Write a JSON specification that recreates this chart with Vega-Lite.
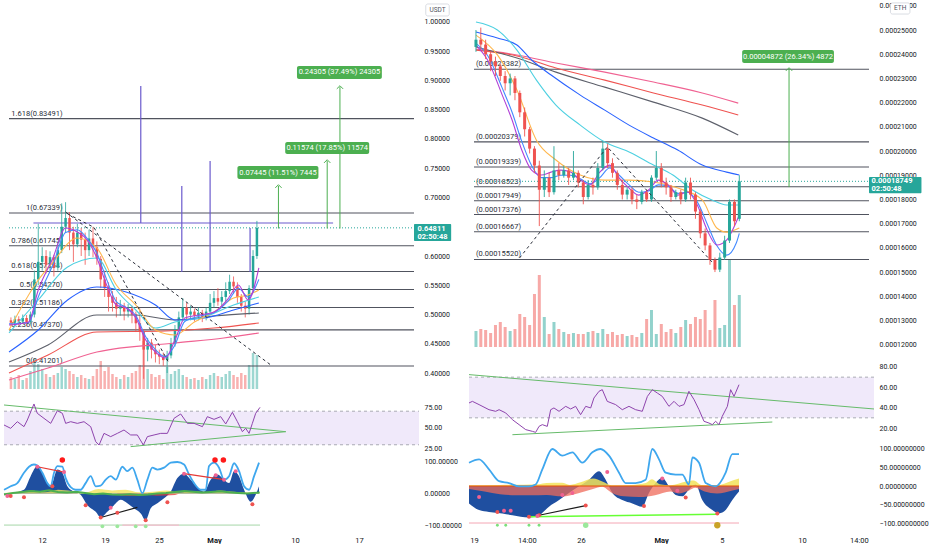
{
  "$schema": "https://vega.github.io/schema/vega-lite/v6.json",
  "description": "Token vs USDT and vs ETH, candles with fib levels, RSI and oscillator",
  "background": "#ffffff",
  "padding": 0,
  "spacing": 3,
  "config": {
    "view": {"stroke": null},
    "font": "Roboto",
    "axis": {"domain": false, "ticks": false, "grid": false, "labelFont": "Roboto", "labelFontSize": 7, "labelColor": "#131722", "labelPadding": 5, "labelOverlap": false, "tickCount": 60},
    "axisX": {"labelFontSize": 7.5},
    "text": {"font": "Roboto", "fontSize": 7.5}
  },
  "datasets": {
    "lC": [
      {"x":0.22,"o":0.490,"h":0.495,"l":0.480,"c":0.486,"v":12},
      {"x":0.67,"o":0.486,"h":0.498,"l":0.482,"c":0.492,"v":10},
      {"x":1.11,"o":0.492,"h":0.497,"l":0.481,"c":0.488,"v":14},
      {"x":1.56,"o":0.488,"h":0.500,"l":0.484,"c":0.494,"v":9},
      {"x":2.00,"o":0.494,"h":0.499,"l":0.480,"c":0.487,"v":11},
      {"x":2.44,"o":0.487,"h":0.505,"l":0.483,"c":0.500,"v":18},
      {"x":2.89,"o":0.500,"h":0.575,"l":0.495,"c":0.560,"v":30},
      {"x":3.33,"o":0.560,"h":0.655,"l":0.550,"c":0.590,"v":25},
      {"x":3.78,"o":0.590,"h":0.615,"l":0.575,"c":0.600,"v":20},
      {"x":4.22,"o":0.600,"h":0.610,"l":0.570,"c":0.585,"v":15},
      {"x":4.67,"o":0.585,"h":0.608,"l":0.575,"c":0.598,"v":12},
      {"x":5.11,"o":0.598,"h":0.602,"l":0.565,"c":0.580,"v":14},
      {"x":5.56,"o":0.580,"h":0.625,"l":0.575,"c":0.610,"v":16},
      {"x":6.00,"o":0.610,"h":0.690,"l":0.605,"c":0.650,"v":22},
      {"x":6.44,"o":0.650,"h":0.692,"l":0.640,"c":0.665,"v":20},
      {"x":6.89,"o":0.665,"h":0.675,"l":0.610,"c":0.640,"v":18},
      {"x":7.33,"o":0.640,"h":0.650,"l":0.590,"c":0.620,"v":15},
      {"x":7.78,"o":0.620,"h":0.655,"l":0.615,"c":0.640,"v":12},
      {"x":8.22,"o":0.640,"h":0.648,"l":0.600,"c":0.628,"v":14},
      {"x":8.67,"o":0.628,"h":0.640,"l":0.585,"c":0.610,"v":11},
      {"x":9.11,"o":0.610,"h":0.645,"l":0.600,"c":0.630,"v":10},
      {"x":9.56,"o":0.630,"h":0.650,"l":0.598,"c":0.615,"v":13},
      {"x":10.00,"o":0.615,"h":0.625,"l":0.585,"c":0.595,"v":20},
      {"x":10.44,"o":0.595,"h":0.600,"l":0.545,"c":0.560,"v":28},
      {"x":10.89,"o":0.560,"h":0.575,"l":0.530,"c":0.545,"v":18},
      {"x":11.33,"o":0.545,"h":0.555,"l":0.505,"c":0.530,"v":22},
      {"x":11.78,"o":0.530,"h":0.540,"l":0.505,"c":0.520,"v":15},
      {"x":12.22,"o":0.520,"h":0.530,"l":0.495,"c":0.510,"v":12},
      {"x":12.67,"o":0.510,"h":0.525,"l":0.498,"c":0.515,"v":10},
      {"x":13.11,"o":0.515,"h":0.520,"l":0.490,"c":0.505,"v":14},
      {"x":13.56,"o":0.505,"h":0.518,"l":0.495,"c":0.510,"v":12},
      {"x":14.00,"o":0.510,"h":0.515,"l":0.485,"c":0.500,"v":16},
      {"x":14.44,"o":0.500,"h":0.505,"l":0.470,"c":0.485,"v":18},
      {"x":14.89,"o":0.485,"h":0.510,"l":0.455,"c":0.470,"v":24},
      {"x":15.33,"o":0.470,"h":0.475,"l":0.390,"c":0.440,"v":48},
      {"x":15.78,"o":0.440,"h":0.460,"l":0.420,"c":0.452,"v":20},
      {"x":16.22,"o":0.452,"h":0.458,"l":0.425,"c":0.440,"v":15},
      {"x":16.67,"o":0.440,"h":0.448,"l":0.418,"c":0.432,"v":12},
      {"x":17.11,"o":0.432,"h":0.440,"l":0.415,"c":0.428,"v":14},
      {"x":17.56,"o":0.428,"h":0.435,"l":0.412,"c":0.422,"v":10},
      {"x":18.00,"o":0.422,"h":0.438,"l":0.400,"c":0.430,"v":22},
      {"x":18.44,"o":0.430,"h":0.460,"l":0.425,"c":0.450,"v":15},
      {"x":18.89,"o":0.450,"h":0.482,"l":0.445,"c":0.475,"v":18},
      {"x":19.33,"o":0.475,"h":0.505,"l":0.470,"c":0.495,"v":20},
      {"x":19.78,"o":0.495,"h":0.528,"l":0.490,"c":0.512,"v":14},
      {"x":20.22,"o":0.512,"h":0.520,"l":0.492,"c":0.500,"v":12},
      {"x":20.67,"o":0.500,"h":0.515,"l":0.490,"c":0.505,"v":10},
      {"x":21.11,"o":0.505,"h":0.510,"l":0.488,"c":0.498,"v":11},
      {"x":21.56,"o":0.498,"h":0.512,"l":0.490,"c":0.503,"v":9},
      {"x":22.00,"o":0.503,"h":0.508,"l":0.487,"c":0.496,"v":12},
      {"x":22.44,"o":0.496,"h":0.512,"l":0.490,"c":0.505,"v":10},
      {"x":22.89,"o":0.505,"h":0.535,"l":0.500,"c":0.520,"v":14},
      {"x":23.33,"o":0.520,"h":0.540,"l":0.512,"c":0.528,"v":16},
      {"x":23.78,"o":0.528,"h":0.545,"l":0.515,"c":0.522,"v":13},
      {"x":24.22,"o":0.522,"h":0.540,"l":0.512,"c":0.530,"v":12},
      {"x":24.67,"o":0.530,"h":0.555,"l":0.520,"c":0.540,"v":15},
      {"x":25.11,"o":0.540,"h":0.568,"l":0.535,"c":0.556,"v":18},
      {"x":25.56,"o":0.556,"h":0.565,"l":0.535,"c":0.548,"v":14},
      {"x":26.00,"o":0.548,"h":0.555,"l":0.520,"c":0.530,"v":12},
      {"x":26.44,"o":0.530,"h":0.535,"l":0.505,"c":0.515,"v":16},
      {"x":26.89,"o":0.515,"h":0.522,"l":0.495,"c":0.510,"v":14},
      {"x":27.33,"o":0.510,"h":0.550,"l":0.500,"c":0.545,"v":24},
      {"x":27.78,"o":0.545,"h":0.610,"l":0.540,"c":0.600,"v":36},
      {"x":28.22,"o":0.600,"h":0.660,"l":0.595,"c":0.648,"v":34}
    ],
    "lFib": [
      {"x":0,"x2":46.1,"lx":6.1,"p":0.83491,"t":"1.618(0.83491)"},
      {"x":0,"x2":46.1,"lx":6.1,"p":0.67339,"t":"1(0.67339)"},
      {"x":0,"x2":46.1,"lx":6.1,"p":0.61745,"t":"0.786(0.61745)"},
      {"x":0,"x2":46.1,"lx":6.1,"p":0.57354,"t":"0.618(0.57354)"},
      {"x":0,"x2":46.1,"lx":6.1,"p":0.54270,"t":"0.5(0.54270)"},
      {"x":0,"x2":46.1,"lx":6.1,"p":0.51186,"t":"0.382(0.51186)"},
      {"x":0,"x2":46.1,"lx":6.1,"p":0.47370,"t":"0.236(0.47370)"},
      {"x":0,"x2":46.1,"lx":6.1,"p":0.41201,"t":"0(0.41201)"}
    ],
    "lMA": [
      {"s":"pink","x":0,"p":0.388},{"s":"pink","x":4.44,"p":0.4085},{"s":"pink","x":10,"p":0.4359},{"s":"pink","x":18.89,"p":0.4513},{"s":"pink","x":24.44,"p":0.4598},{"s":"pink","x":28.44,"p":0.4684},
      {"s":"red","x":0,"p":0.40},{"s":"red","x":4.44,"p":0.4308},{"s":"red","x":10,"p":0.4701},{"s":"red","x":17.78,"p":0.4718},{"s":"red","x":23.33,"p":0.4769},{"s":"red","x":28.44,"p":0.4855},
      {"s":"gray","x":0,"p":0.4188},{"s":"gray","x":4.44,"p":0.4479},{"s":"gray","x":10,"p":0.4991},{"s":"gray","x":14.44,"p":0.4991},{"s":"gray","x":18.89,"p":0.4906},{"s":"gray","x":23.33,"p":0.4974},{"s":"gray","x":28.44,"p":0.5026},
      {"s":"blue","x":0,"p":0.4359},{"s":"blue","x":3.33,"p":0.4735},{"s":"blue","x":6.67,"p":0.5248},{"s":"blue","x":10,"p":0.547},{"s":"blue","x":13.33,"p":0.5385},{"s":"blue","x":16.67,"p":0.5162},{"s":"blue","x":18.89,"p":0.4906},{"s":"blue","x":22.22,"p":0.494},{"s":"blue","x":25.56,"p":0.5077},{"s":"blue","x":28.44,"p":0.5197},
      {"s":"teal","x":0,"p":0.4684},{"s":"teal","x":3.33,"p":0.5248},{"s":"teal","x":6.67,"p":0.5812},{"s":"teal","x":10,"p":0.5966},{"s":"teal","x":12.22,"p":0.5419},{"s":"teal","x":14.44,"p":0.5077},{"s":"teal","x":16.67,"p":0.4769},{"s":"teal","x":18.89,"p":0.4872},{"s":"teal","x":22.22,"p":0.4957},{"s":"teal","x":25.56,"p":0.5162},{"s":"teal","x":28.44,"p":0.5299},
      {"s":"orange","x":0,"p":0.4735},{"s":"orange","x":3.33,"p":0.559},{"s":"orange","x":5,"p":0.5897},{"s":"orange","x":7.78,"p":0.6308},{"s":"orange","x":10,"p":0.6137},{"s":"orange","x":12.22,"p":0.5504},{"s":"orange","x":14.44,"p":0.5162},{"s":"orange","x":16.67,"p":0.4735},{"s":"orange","x":18.89,"p":0.465},{"s":"orange","x":21.11,"p":0.4872},{"s":"orange","x":23.33,"p":0.5043},{"s":"orange","x":25.56,"p":0.5282},{"s":"orange","x":27.22,"p":0.5333},{"s":"orange","x":28.44,"p":0.5419},
      {"s":"fblue","x":0,"p":0.484},{"s":"fblue","x":2.22,"p":0.486},{"s":"fblue","x":3.33,"p":0.530},{"s":"fblue","x":5,"p":0.585},{"s":"fblue","x":6.44,"p":0.640},{"s":"fblue","x":7.78,"p":0.645},{"s":"fblue","x":8.89,"p":0.630},{"s":"fblue","x":10,"p":0.605},{"s":"fblue","x":11.11,"p":0.560},{"s":"fblue","x":12.22,"p":0.522},{"s":"fblue","x":13.33,"p":0.512},{"s":"fblue","x":14.44,"p":0.498},{"s":"fblue","x":15.56,"p":0.462},{"s":"fblue","x":16.67,"p":0.440},{"s":"fblue","x":17.78,"p":0.428},{"s":"fblue","x":18.89,"p":0.448},{"s":"fblue","x":20,"p":0.488},{"s":"fblue","x":21.67,"p":0.497},{"s":"fblue","x":23.33,"p":0.503},{"s":"fblue","x":25,"p":0.524},{"s":"fblue","x":26.11,"p":0.545},{"s":"fblue","x":27.22,"p":0.530},{"s":"fblue","x":28.44,"p":0.560},
      {"s":"fpurple","x":0,"p":0.4821},{"s":"fpurple","x":2.22,"p":0.4872},{"s":"fpurple","x":3.33,"p":0.5419},{"s":"fpurple","x":5,"p":0.5966},{"s":"fpurple","x":6.44,"p":0.6479},{"s":"fpurple","x":7.78,"p":0.641},{"s":"fpurple","x":8.89,"p":0.6274},{"s":"fpurple","x":10,"p":0.5966},{"s":"fpurple","x":11.11,"p":0.5504},{"s":"fpurple","x":12.22,"p":0.5162},{"s":"fpurple","x":13.33,"p":0.5111},{"s":"fpurple","x":14.44,"p":0.494},{"s":"fpurple","x":15.56,"p":0.4564},{"s":"fpurple","x":16.67,"p":0.4359},{"s":"fpurple","x":17.78,"p":0.4256},{"s":"fpurple","x":18.89,"p":0.4564},{"s":"fpurple","x":20,"p":0.494},{"s":"fpurple","x":21.67,"p":0.4991},{"s":"fpurple","x":23.33,"p":0.5043},{"s":"fpurple","x":25,"p":0.5282},{"s":"fpurple","x":26.11,"p":0.5504},{"s":"fpurple","x":27.22,"p":0.5248},{"s":"fpurple","x":28.44,"p":0.5795}
    ],
    "lR": [
      {"x":0,"v":53.6},{"x":0.74,"v":49.6},{"x":1.48,"v":57.5},{"x":2.22,"v":51.6},{"x":2.59,"v":59.5},{"x":3.33,"v":78.6},{"x":3.70,"v":67.5},{"x":4.44,"v":61.5},{"x":5.19,"v":55.5},{"x":5.93,"v":70.6},{"x":6.48,"v":67.5},{"x":6.85,"v":55.5},{"x":7.41,"v":57.5},{"x":8.15,"v":55.5},{"x":8.89,"v":57.5},{"x":9.63,"v":51.6},{"x":10.19,"v":33.7},{"x":10.56,"v":29.7},{"x":11.11,"v":43.6},{"x":11.85,"v":39.7},{"x":12.59,"v":43.6},{"x":13.33,"v":47.6},{"x":14.07,"v":41.7},{"x":14.81,"v":41.7},{"x":15.48,"v":29.7},{"x":15.93,"v":39.7},{"x":16.67,"v":41.7},{"x":17.41,"v":43.6},{"x":18.15,"v":43.6},{"x":18.89,"v":61.5},{"x":19.63,"v":66.7},{"x":20.37,"v":55.5},{"x":21.11,"v":55.5},{"x":22.04,"v":51.6},{"x":22.59,"v":63.5},{"x":23.33,"v":60.3},{"x":24.07,"v":63.5},{"x":24.63,"v":54.8},{"x":25.37,"v":68.7},{"x":25.93,"v":57.5},{"x":26.48,"v":45.6},{"x":26.85,"v":49.6},{"x":27.22,"v":43.6},{"x":27.59,"v":55.5},{"x":27.96,"v":67.5},{"x":28.44,"v":74.6}
    ],
    "lOL": [
      {"x":0,"v":12},{"x":0.74,"v":23},{"x":1.48,"v":33},{"x":2.22,"v":66},{"x":2.78,"v":85},{"x":3.33,"v":92},{"x":3.70,"v":89},{"x":4.26,"v":66},{"x":4.81,"v":33},{"x":5.19,"v":23},{"x":5.56,"v":66},{"x":5.93,"v":87},{"x":6.48,"v":85},{"x":6.85,"v":49},{"x":7.41,"v":20},{"x":7.96,"v":12},{"x":8.52,"v":12},{"x":9.07,"v":33},{"x":9.63,"v":55},{"x":10.19,"v":23},{"x":10.74,"v":25},{"x":11.30,"v":44},{"x":11.85,"v":55},{"x":12.41,"v":44},{"x":13.15,"v":85},{"x":13.70,"v":71},{"x":14.26,"v":82},{"x":14.81,"v":44},{"x":15.37,"v":1},{"x":15.93,"v":44},{"x":16.48,"v":82},{"x":17.04,"v":76},{"x":17.78,"v":82},{"x":18.52,"v":98},{"x":19.26,"v":100},{"x":20.00,"v":92},{"x":20.56,"v":60},{"x":21.11,"v":33},{"x":21.85,"v":12},{"x":22.41,"v":12},{"x":22.78,"v":87},{"x":23.33,"v":98},{"x":23.89,"v":82},{"x":24.44,"v":44},{"x":25.00,"v":55},{"x":25.56,"v":96},{"x":26.11,"v":71},{"x":26.67,"v":23},{"x":27.22,"v":12},{"x":27.78,"v":55},{"x":28.33,"v":98}
    ],
    "lOA": [
      {"x":0,"v":-4},{"x":2.22,"v":12},{"x":2.96,"v":55},{"x":3.70,"v":87},{"x":4.44,"v":55},{"x":5.19,"v":23},{"x":5.93,"v":76},{"x":6.48,"v":66},{"x":7.04,"v":23},{"x":7.78,"v":6},{"x":8.52,"v":-4},{"x":9.26,"v":-37},{"x":10.19,"v":-58},{"x":10.74,"v":-76},{"x":11.48,"v":-58},{"x":12.22,"v":-37},{"x":12.96,"v":-20},{"x":13.70,"v":-31},{"x":14.44,"v":-47},{"x":15.19,"v":-63},{"x":15.74,"v":-85},{"x":16.30,"v":-47},{"x":17.04,"v":-31},{"x":17.78,"v":-15},{"x":18.52,"v":6},{"x":19.26,"v":49},{"x":20.00,"v":63},{"x":20.74,"v":44},{"x":21.48,"v":20},{"x":22.22,"v":6},{"x":22.96,"v":44},{"x":23.70,"v":60},{"x":24.44,"v":44},{"x":25.00,"v":33},{"x":25.56,"v":71},{"x":26.11,"v":55},{"x":26.67,"v":12},{"x":27.41,"v":-26},{"x":27.96,"v":-4},{"x":28.33,"v":23}
    ],
    "lOY": [
      {"x":0,"v":2},{"x":1.5,"v":6},{"x":3,"v":10},{"x":4.5,"v":4},{"x":6,"v":12},{"x":7.5,"v":8},{"x":9,"v":3},{"x":10.5,"v":14},{"x":12,"v":10},{"x":13.5,"v":12},{"x":15,"v":4},{"x":16.5,"v":6},{"x":18,"v":10},{"x":19.5,"v":3},{"x":21,"v":8},{"x":22.5,"v":4},{"x":24,"v":10},{"x":25.5,"v":6},{"x":27,"v":3},{"x":28.4,"v":5}
    ],
    "lOG": [
      {"x":0,"v":-3},{"x":1,"v":2},{"x":2,"v":5},{"x":3,"v":8},{"x":4,"v":6},{"x":5,"v":10},{"x":6,"v":5},{"x":7,"v":3},{"x":8,"v":6},{"x":9,"v":2},{"x":10,"v":-2},{"x":11,"v":0},{"x":12,"v":-3},{"x":13,"v":-4},{"x":14,"v":-2},{"x":15,"v":-5},{"x":16,"v":-3},{"x":17,"v":0},{"x":18,"v":2},{"x":19,"v":5},{"x":20,"v":8},{"x":21,"v":6},{"x":22,"v":3},{"x":23,"v":5},{"x":24,"v":7},{"x":25,"v":4},{"x":26,"v":2},{"x":27,"v":0},{"x":28.4,"v":3}
    ],
    "lOD": [
      {"x":3.70,"v":85,"k":"bear"},{"x":6.67,"v":68,"k":"bear"},{"x":20.0,"v":63,"k":"bear"},{"x":23.52,"v":58,"k":"bear"},{"x":24.44,"v":44,"k":"bear"},{"x":25.74,"v":71,"k":"bear"},{"x":0.37,"v":-8,"k":"bear"},{"x":11.85,"v":-45,"k":"bear"},
      {"x":5.37,"v":23,"k":"bull"},{"x":2.22,"v":-12,"k":"bull"},{"x":0.74,"v":-8,"k":"bull"},{"x":9.07,"v":-37,"k":"bull"},{"x":10.74,"v":-76,"k":"bull"},{"x":12.59,"v":-61,"k":"bull"},{"x":15.74,"v":-85,"k":"bull"},{"x":18.15,"v":-28,"k":"bull"},{"x":27.59,"v":-34,"k":"bull"}
    ],
    "rC": [
      {"x":0.13,"o":0.000243,"h":0.00025,"l":0.000241,"c":0.000246,"v":16},
      {"x":0.45,"o":0.000246,"h":0.000251,"l":0.000242,"c":0.000244,"v":18},
      {"x":0.77,"o":0.000244,"h":0.000246,"l":0.000238,"c":0.00024,"v":17},
      {"x":1.10,"o":0.00024,"h":0.000241,"l":0.000233,"c":0.000237,"v":14},
      {"x":1.42,"o":0.000237,"h":0.000239,"l":0.000231,"c":0.000235,"v":22},
      {"x":1.74,"o":0.000235,"h":0.000236,"l":0.000229,"c":0.000231,"v":25},
      {"x":2.06,"o":0.000231,"h":0.000233,"l":0.000225,"c":0.000228,"v":20},
      {"x":2.39,"o":0.000228,"h":0.000232,"l":0.000223,"c":0.00023,"v":16},
      {"x":2.71,"o":0.00023,"h":0.000231,"l":0.000221,"c":0.000224,"v":18},
      {"x":3.03,"o":0.000224,"h":0.000225,"l":0.000214,"c":0.000216,"v":33},
      {"x":3.35,"o":0.000216,"h":0.000218,"l":0.000206,"c":0.000209,"v":30},
      {"x":3.68,"o":0.000209,"h":0.00021,"l":0.000199,"c":0.000201,"v":22},
      {"x":4.00,"o":0.000201,"h":0.000202,"l":0.000191,"c":0.000194,"v":53},
      {"x":4.32,"o":0.000194,"h":0.000196,"l":0.000169,"c":0.000184,"v":72},
      {"x":4.65,"o":0.000184,"h":0.000192,"l":0.000181,"c":0.000189,"v":30},
      {"x":4.97,"o":0.000189,"h":0.000191,"l":0.000181,"c":0.000183,"v":13},
      {"x":5.29,"o":0.000183,"h":0.000202,"l":0.000182,"c":0.000192,"v":25},
      {"x":5.61,"o":0.000192,"h":0.000195,"l":0.000188,"c":0.00019,"v":18},
      {"x":5.94,"o":0.00019,"h":0.000194,"l":0.000189,"c":0.000192,"v":15},
      {"x":6.26,"o":0.000192,"h":0.000193,"l":0.000186,"c":0.000189,"v":13},
      {"x":6.58,"o":0.000189,"h":0.0002,"l":0.000188,"c":0.000191,"v":14},
      {"x":6.90,"o":0.000191,"h":0.000192,"l":0.000185,"c":0.000187,"v":13},
      {"x":7.23,"o":0.000187,"h":0.000188,"l":0.000178,"c":0.000181,"v":13},
      {"x":7.55,"o":0.000181,"h":0.000188,"l":0.00018,"c":0.000186,"v":15},
      {"x":7.87,"o":0.000186,"h":0.000189,"l":0.000182,"c":0.000185,"v":16},
      {"x":8.19,"o":0.000185,"h":0.000195,"l":0.000184,"c":0.000193,"v":14},
      {"x":8.52,"o":0.000193,"h":0.000204,"l":0.000192,"c":0.000201,"v":18},
      {"x":8.84,"o":0.000201,"h":0.000203,"l":0.000193,"c":0.000195,"v":13},
      {"x":9.16,"o":0.000195,"h":0.000197,"l":0.000189,"c":0.000191,"v":15},
      {"x":9.48,"o":0.000191,"h":0.000192,"l":0.000184,"c":0.000186,"v":12},
      {"x":9.81,"o":0.000186,"h":0.000188,"l":0.00018,"c":0.000182,"v":13},
      {"x":10.13,"o":0.000182,"h":0.000185,"l":0.00018,"c":0.000184,"v":11},
      {"x":10.45,"o":0.000184,"h":0.000185,"l":0.000178,"c":0.00018,"v":12},
      {"x":10.77,"o":0.00018,"h":0.000182,"l":0.000176,"c":0.000179,"v":10},
      {"x":11.10,"o":0.000179,"h":0.000184,"l":0.000178,"c":0.000183,"v":14},
      {"x":11.42,"o":0.000183,"h":0.000184,"l":0.000179,"c":0.00018,"v":28},
      {"x":11.74,"o":0.00018,"h":0.00019,"l":0.000179,"c":0.000189,"v":37},
      {"x":12.06,"o":0.000189,"h":0.0002,"l":0.000188,"c":0.000193,"v":13},
      {"x":12.39,"o":0.000193,"h":0.000195,"l":0.000185,"c":0.000187,"v":23},
      {"x":12.71,"o":0.000187,"h":0.000189,"l":0.000182,"c":0.000185,"v":15},
      {"x":13.03,"o":0.000185,"h":0.000186,"l":0.000179,"c":0.000181,"v":18},
      {"x":13.35,"o":0.000181,"h":0.000184,"l":0.00018,"c":0.000183,"v":14},
      {"x":13.68,"o":0.000183,"h":0.000184,"l":0.000178,"c":0.00018,"v":20},
      {"x":14.00,"o":0.00018,"h":0.000189,"l":0.000179,"c":0.000187,"v":27},
      {"x":14.32,"o":0.000187,"h":0.000189,"l":0.00018,"c":0.000182,"v":23},
      {"x":14.65,"o":0.000182,"h":0.000183,"l":0.000172,"c":0.000175,"v":30},
      {"x":14.97,"o":0.000175,"h":0.000176,"l":0.000164,"c":0.000166,"v":28},
      {"x":15.29,"o":0.000166,"h":0.000168,"l":0.000159,"c":0.000161,"v":37},
      {"x":15.61,"o":0.000161,"h":0.000162,"l":0.000153,"c":0.000155,"v":17},
      {"x":15.94,"o":0.000155,"h":0.000156,"l":0.00015,"c":0.000151,"v":47},
      {"x":16.26,"o":0.000151,"h":0.000158,"l":0.00015,"c":0.000156,"v":19},
      {"x":16.58,"o":0.000156,"h":0.000165,"l":0.000155,"c":0.000163,"v":22},
      {"x":16.90,"o":0.000163,"h":0.00018,"l":0.000162,"c":0.000179,"v":87},
      {"x":17.23,"o":0.000179,"h":0.00018,"l":0.000169,"c":0.000171,"v":42},
      {"x":17.55,"o":0.000172,"h":0.00019,"l":0.000171,"c":0.00018749,"v":52}
    ],
    "rFib": [
      {"x":0,"x2":26.13,"lx":0.13,"p":0.00023382,"t":"(0.00023382)"},
      {"x":0,"x2":26.13,"lx":0.13,"p":0.00020379,"t":"(0.00020379)"},
      {"x":0,"x2":26.13,"lx":0.13,"p":0.00019339,"t":"(0.00019339)"},
      {"x":0,"x2":26.13,"lx":0.13,"p":0.00018523,"t":"(0.00018523)"},
      {"x":0,"x2":26.13,"lx":0.13,"p":0.00017949,"t":"(0.00017949)"},
      {"x":0,"x2":26.13,"lx":0.13,"p":0.00017376,"t":"(0.00017376)"},
      {"x":0,"x2":26.13,"lx":0.13,"p":0.00016667,"t":"(0.00016667)"},
      {"x":0,"x2":26.13,"lx":0.13,"p":0.00015520,"t":"(0.00015520)"}
    ],
    "rMA": [
      {"s":"pink","x":0.13,"p":0.0002421},{"s":"pink","x":2.84,"p":0.0002397},{"s":"pink","x":5.42,"p":0.0002364},{"s":"pink","x":8.65,"p":0.0002326},{"s":"pink","x":11.87,"p":0.0002285},{"s":"pink","x":15.10,"p":0.000224},{"s":"pink","x":17.48,"p":0.0002198},
      {"s":"red","x":0.13,"p":0.0002417},{"s":"red","x":2.84,"p":0.0002393},{"s":"red","x":5.42,"p":0.0002343},{"s":"red","x":8.65,"p":0.0002293},{"s":"red","x":11.87,"p":0.000224},{"s":"red","x":15.10,"p":0.000219},{"s":"red","x":17.48,"p":0.0002149},
      {"s":"gray","x":0.13,"p":0.000243},{"s":"gray","x":2.84,"p":0.0002384},{"s":"gray","x":5.42,"p":0.0002326},{"s":"gray","x":8.65,"p":0.0002264},{"s":"gray","x":11.87,"p":0.0002202},{"s":"gray","x":15.10,"p":0.0002136},{"s":"gray","x":17.48,"p":0.0002066},
      {"s":"blue","x":0.13,"p":0.0002492},{"s":"blue","x":1.55,"p":0.0002467},{"s":"blue","x":2.84,"p":0.0002438},{"s":"blue","x":3.81,"p":0.0002376},{"s":"blue","x":5.10,"p":0.0002314},{"s":"blue","x":7.03,"p":0.0002231},{"s":"blue","x":8.65,"p":0.0002169},{"s":"blue","x":10.26,"p":0.0002107},{"s":"blue","x":11.87,"p":0.0002054},{"s":"blue","x":13.48,"p":0.0002004},{"s":"blue","x":15.10,"p":0.0001942},{"s":"blue","x":16.71,"p":0.0001913},{"s":"blue","x":17.55,"p":0.0001901},
      {"s":"teal","x":0.13,"p":0.0002533},{"s":"teal","x":1.55,"p":0.00025},{"s":"teal","x":2.84,"p":0.0002417},{"s":"teal","x":4.13,"p":0.0002293},{"s":"teal","x":5.42,"p":0.000219},{"s":"teal","x":7.03,"p":0.0002107},{"s":"teal","x":8.65,"p":0.0002037},{"s":"teal","x":10.26,"p":0.0001996},{"s":"teal","x":11.87,"p":0.0001942},{"s":"teal","x":13.16,"p":0.0001901},{"s":"teal","x":14.45,"p":0.0001839},{"s":"teal","x":15.74,"p":0.0001798},{"s":"teal","x":16.71,"p":0.0001777},{"s":"teal","x":17.55,"p":0.0001777},
      {"s":"orange","x":0.13,"p":0.0002479},{"s":"orange","x":1.55,"p":0.0002397},{"s":"orange","x":2.84,"p":0.0002252},{"s":"orange","x":4.13,"p":0.0002045},{"s":"orange","x":5.42,"p":0.0001963},{"s":"orange","x":7.03,"p":0.0001901},{"s":"orange","x":8.65,"p":0.000188},{"s":"orange","x":10.26,"p":0.000188},{"s":"orange","x":11.87,"p":0.0001872},{"s":"orange","x":13.48,"p":0.0001847},{"s":"orange","x":15.10,"p":0.0001798},{"s":"orange","x":16.06,"p":0.0001682},{"s":"orange","x":16.71,"p":0.0001665},{"s":"orange","x":17.55,"p":0.0001682},
      {"s":"fblue","x":0.13,"p":0.0002445},{"s":"fblue","x":0.90,"p":0.0002395},{"s":"fblue","x":1.87,"p":0.000226},{"s":"fblue","x":2.52,"p":0.000216},{"s":"fblue","x":3.16,"p":0.000204},{"s":"fblue","x":3.81,"p":0.000194},{"s":"fblue","x":4.45,"p":0.000189},{"s":"fblue","x":5.10,"p":0.000189},{"s":"fblue","x":5.74,"p":0.00019},{"s":"fblue","x":6.39,"p":0.00019},{"s":"fblue","x":7.03,"p":0.0001885},{"s":"fblue","x":7.68,"p":0.0001865},{"s":"fblue","x":8.32,"p":0.000189},{"s":"fblue","x":8.97,"p":0.000193},{"s":"fblue","x":9.61,"p":0.00019},{"s":"fblue","x":10.26,"p":0.000186},{"s":"fblue","x":10.90,"p":0.000183},{"s":"fblue","x":11.55,"p":0.0001835},{"s":"fblue","x":12.19,"p":0.000186},{"s":"fblue","x":12.84,"p":0.0001855},{"s":"fblue","x":13.48,"p":0.0001825},{"s":"fblue","x":14.13,"p":0.000183},{"s":"fblue","x":14.77,"p":0.000179},{"s":"fblue","x":15.42,"p":0.00017},{"s":"fblue","x":16.06,"p":0.000161},{"s":"fblue","x":16.71,"p":0.000157},{"s":"fblue","x":17.35,"p":0.000162},{"s":"fblue","x":17.55,"p":0.000166},
      {"s":"fpurple","x":0.13,"p":0.0002438},{"s":"fpurple","x":0.90,"p":0.0002376},{"s":"fpurple","x":1.87,"p":0.0002231},{"s":"fpurple","x":2.52,"p":0.0002128},{"s":"fpurple","x":3.16,"p":0.0002004},{"s":"fpurple","x":3.81,"p":0.0001921},{"s":"fpurple","x":4.45,"p":0.0001901},{"s":"fpurple","x":5.10,"p":0.0001913},{"s":"fpurple","x":5.74,"p":0.0001921},{"s":"fpurple","x":6.39,"p":0.0001913},{"s":"fpurple","x":7.03,"p":0.000188},{"s":"fpurple","x":7.68,"p":0.000186},{"s":"fpurple","x":8.32,"p":0.0001913},{"s":"fpurple","x":8.97,"p":0.0001942},{"s":"fpurple","x":9.61,"p":0.0001888},{"s":"fpurple","x":10.26,"p":0.0001847},{"s":"fpurple","x":10.90,"p":0.0001818},{"s":"fpurple","x":11.55,"p":0.0001839},{"s":"fpurple","x":12.19,"p":0.000188},{"s":"fpurple","x":12.84,"p":0.000186},{"s":"fpurple","x":13.48,"p":0.0001818},{"s":"fpurple","x":14.13,"p":0.0001831},{"s":"fpurple","x":14.77,"p":0.0001777},{"s":"fpurple","x":15.42,"p":0.0001674},{"s":"fpurple","x":16.06,"p":0.0001612},{"s":"fpurple","x":16.71,"p":0.0001632},{"s":"fpurple","x":17.35,"p":0.0001707},{"s":"fpurple","x":17.55,"p":0.0001736}
    ],
    "rR": [
      {"x":0,"v":44.6},{"x":0.22,"v":46.2},{"x":0.65,"v":43},{"x":1.29,"v":38},{"x":1.72,"v":36.4},{"x":1.94,"v":38},{"x":2.37,"v":34.8},{"x":2.80,"v":28.2},{"x":3.23,"v":23.3},{"x":3.66,"v":18.4},{"x":4.09,"v":16.7},{"x":4.30,"v":15.7},{"x":4.52,"v":21.6},{"x":4.73,"v":23.3},{"x":5.05,"v":21.6},{"x":5.27,"v":38},{"x":5.48,"v":39.7},{"x":5.81,"v":36.4},{"x":6.24,"v":41.3},{"x":6.56,"v":38.7},{"x":6.88,"v":41.3},{"x":7.20,"v":33.1},{"x":7.53,"v":41.3},{"x":7.85,"v":39.7},{"x":8.06,"v":49.5},{"x":8.39,"v":56.1},{"x":8.60,"v":57.7},{"x":8.92,"v":46.2},{"x":9.46,"v":43},{"x":9.89,"v":38},{"x":10.32,"v":41.3},{"x":10.75,"v":38},{"x":11.18,"v":36.4},{"x":11.51,"v":51.1},{"x":11.83,"v":57.7},{"x":12.15,"v":54.4},{"x":12.47,"v":51.1},{"x":12.90,"v":41.3},{"x":13.23,"v":46.2},{"x":13.55,"v":41.3},{"x":13.87,"v":43},{"x":14.19,"v":56.1},{"x":14.52,"v":47.9},{"x":14.84,"v":38},{"x":15.16,"v":26.6},{"x":15.48,"v":24.9},{"x":15.70,"v":23.3},{"x":15.91,"v":26.6},{"x":16.13,"v":23.3},{"x":16.34,"v":31.5},{"x":16.67,"v":41.3},{"x":16.88,"v":57.7},{"x":17.10,"v":51.1},{"x":17.42,"v":62.6}
    ],
    "rOL": [
      {"x":0,"v":63},{"x":0.65,"v":72},{"x":1.29,"v":45},{"x":1.94,"v":13},{"x":2.58,"v":8},{"x":3.23,"v":-1},{"x":3.87,"v":-1},{"x":4.30,"v":4},{"x":4.73,"v":45},{"x":5.38,"v":100},{"x":6.02,"v":82},{"x":6.67,"v":91},{"x":7.31,"v":63},{"x":7.96,"v":91},{"x":8.49,"v":100},{"x":9.03,"v":82},{"x":9.68,"v":36},{"x":10.11,"v":8},{"x":10.75,"v":8},{"x":11.40,"v":17},{"x":11.83,"v":100},{"x":12.26,"v":72},{"x":12.69,"v":36},{"x":13.33,"v":31},{"x":13.76,"v":31},{"x":14.19,"v":4},{"x":14.41,"v":77},{"x":14.84,"v":63},{"x":15.27,"v":8},{"x":15.91,"v":-1},{"x":16.56,"v":36},{"x":16.99,"v":86},{"x":17.42,"v":86}
    ],
    "rOA": [
      {"x":0,"v":-47},{"x":0.65,"v":-65},{"x":1.29,"v":-70},{"x":2.15,"v":-74},{"x":2.80,"v":-79},{"x":3.87,"v":-85},{"x":4.52,"v":-79},{"x":5.16,"v":-56},{"x":5.81,"v":-38},{"x":6.45,"v":-19},{"x":7.10,"v":-1},{"x":7.74,"v":17},{"x":8.39,"v":40},{"x":8.82,"v":17},{"x":9.25,"v":-19},{"x":9.89,"v":-38},{"x":10.54,"v":-47},{"x":11.18,"v":-56},{"x":11.61,"v":-19},{"x":12.04,"v":8},{"x":12.47,"v":22},{"x":12.90,"v":-1},{"x":13.33,"v":-24},{"x":13.76,"v":-28},{"x":14.19,"v":-10},{"x":14.62,"v":4},{"x":15.05,"v":-38},{"x":15.70,"v":-65},{"x":16.13,"v":-74},{"x":16.56,"v":-65},{"x":16.99,"v":-38},{"x":17.42,"v":-15}
    ],
    "rOR": [
      {"x":0,"v":-8},{"x":1,"v":-15},{"x":2,"v":-22},{"x":3,"v":-25},{"x":4,"v":-25},{"x":5,"v":-24},{"x":6,"v":-28},{"x":7,"v":-20},{"x":8,"v":-8},{"x":8.6,"v":-2},{"x":9.2,"v":-18},{"x":10,"v":-28},{"x":11,"v":-30},{"x":12,"v":-25},{"x":13,"v":-15},{"x":13.5,"v":-20},{"x":14.2,"v":-12},{"x":14.6,"v":-5},{"x":15.2,"v":-15},{"x":16,"v":-20},{"x":17,"v":-12},{"x":17.42,"v":-8}
    ],
    "rOY": [
      {"x":0,"v":2},{"x":2,"v":3},{"x":4.5,"v":5},{"x":5,"v":8},{"x":6,"v":9},{"x":6.5,"v":3},{"x":7.2,"v":10},{"x":8,"v":20},{"x":8.6,"v":12},{"x":9.2,"v":2},{"x":10.5,"v":3},{"x":11.4,"v":8},{"x":11.8,"v":18},{"x":12.3,"v":5},{"x":13,"v":2},{"x":14,"v":12},{"x":14.5,"v":15},{"x":15,"v":3},{"x":16,"v":2},{"x":17,"v":15},{"x":17.42,"v":20}
    ],
    "rOD": [
      {"x":1.83,"v":-70,"k":"bull"},{"x":3.87,"v":-83,"k":"bull"},{"x":4.52,"v":-79,"k":"bull"},{"x":7.53,"v":-53,"k":"bull"},{"x":11.29,"v":-54,"k":"bull"},{"x":13.98,"v":-31,"k":"bull"},{"x":16.02,"v":-74,"k":"bull"},
      {"x":0.65,"v":-30,"k":"bear"},{"x":2.26,"v":-67,"k":"bear"},{"x":2.69,"v":-67,"k":"bear"},{"x":4.41,"v":-81,"k":"bear"},{"x":6.02,"v":-24,"k":"bear"},{"x":6.67,"v":-19,"k":"bear"},{"x":8.92,"v":38,"k":"bear"},{"x":12.47,"v":20,"k":"bear"},{"x":13.44,"v":-13,"k":"bear"}
    ]
  },
  "hconcat": [
    {
      "spacing": 0,
      "bounds": "flush",
      "vconcat": [
        {
          "width": 415,
          "height": 395,
          "encoding": {"x": {"field": "x", "type": "quantitative", "title": null, "scale": {"domain": [0, 46.1], "nice": false, "zero": false}, "axis": null}},
          "resolve": {"scale": {"y": "independent"}},
          "layer": [
            {
              "data": {"name": "lC"},
              "mark": {"type": "bar", "width": 2.5, "opacity": 0.45},
              "encoding": {
                "y": {"field": "v", "type": "quantitative", "title": null, "scale": {"domain": [-6, 389], "nice": false, "zero": false}, "axis": null},
                "y2": {"datum": 0},
                "color": {"condition": {"test": "datum.c >= datum.o", "value": "#26a69a"}, "value": "#ef5350"}
              }
            },
            {
              "layer": [
                {
                  "data": {"name": "lFib"},
                  "mark": {"type": "rule", "color": "#50535e", "strokeWidth": 1.1},
                  "encoding": {
                    "x2": {"field": "x2"},
                    "y": {"field": "p", "type": "quantitative", "title": null, "scale": {"domain": [0.3624, 1.0376], "nice": false, "zero": false},
                      "axis": {"orient": "right", "tickCount": 60, "labelOverlap": false, "values": [0.4, 0.45, 0.5, 0.55, 0.6, 0.7, 0.75, 0.8, 0.85, 0.9, 0.95, 1.0], "format": ".5f"}}
                  }
                },
                {
                  "data": {"name": "lFib"},
                  "mark": {"type": "text", "align": "right", "baseline": "bottom", "dy": -1, "color": "#2a2e39", "fontSize": 7.5},
                  "encoding": {
                    "x": {"field": "lx", "type": "quantitative"},
                    "y": {"field": "p", "type": "quantitative", "title": null},
                    "text": {"field": "t", "type": "nominal"}
                  }
                },
                {
                  "data": {"values": [{"x": 0, "x2": 46.1, "p": 0.64811}]},
                  "mark": {"type": "rule", "color": "#26a69a", "strokeDash": [1, 2], "strokeWidth": 1},
                  "encoding": {"x2": {"field": "x2"}, "y": {"field": "p", "type": "quantitative", "title": null}}
                },
                {
                  "data": {"values": [
                    {"x": 2.78, "x2": 36.89, "p": 0.6564, "p2": 0.6564},
                    {"x": 15.0, "x2": 15.0, "p": 0.8906, "p2": 0.6564},
                    {"x": 19.67, "x2": 19.67, "p": 0.7197, "p2": 0.5726},
                    {"x": 22.89, "x2": 22.89, "p": 0.7624, "p2": 0.5726},
                    {"x": 27.44, "x2": 27.44, "p": 0.6479, "p2": 0.5726}
                  ]},
                  "mark": {"type": "rule", "color": "#6a5acd", "strokeWidth": 1.2},
                  "encoding": {"x2": {"field": "x2"}, "y": {"field": "p", "type": "quantitative", "title": null}, "y2": {"field": "p2"}}
                },
                {
                  "data": {"name": "lC"},
                  "mark": {"type": "rule", "strokeWidth": 0.8},
                  "encoding": {
                    "y": {"field": "l", "type": "quantitative", "title": null},
                    "y2": {"field": "h"},
                    "color": {"condition": {"test": "datum.c >= datum.o", "value": "#26a69a"}, "value": "#ef5350"}
                  }
                },
                {
                  "data": {"name": "lC"},
                  "mark": {"type": "bar", "width": 2.5},
                  "encoding": {
                    "y": {"field": "o", "type": "quantitative", "title": null},
                    "y2": {"field": "c"},
                    "color": {"condition": {"test": "datum.c >= datum.o", "value": "#26a69a"}, "value": "#ef5350"}
                  }
                },
                {
                  "data": {"name": "lMA"},
                  "mark": {"type": "line", "strokeWidth": 1.1, "interpolate": "monotone"},
                  "encoding": {
                    "y": {"field": "p", "type": "quantitative", "title": null},
                    "color": {"field": "s", "type": "nominal", "legend": null,
                      "scale": {"domain": ["pink", "red", "gray", "blue", "teal", "orange", "fblue", "fpurple"],
                        "range": ["#f06292", "#ef5350", "#5d606b", "#2962ff", "#4dd0e1", "#ffb74d", "#448aff", "#b23fd6"]}}
                  }
                },
                {
                  "data": {"values": [
                    {"g": "a", "x": 6.44, "p": 0.6752}, {"g": "a", "x": 29.8, "p": 0.4137},
                    {"g": "b", "x": 6.67, "p": 0.672}, {"g": "b", "x": 9.67, "p": 0.649}, {"g": "b", "x": 18.1, "p": 0.42}
                  ]},
                  "mark": {"type": "line", "color": "#2a2e39", "strokeDash": [3, 3], "strokeWidth": 1},
                  "encoding": {"y": {"field": "p", "type": "quantitative", "title": null}, "detail": {"field": "g"}}
                },
                {
                  "data": {"values": [
                    {"x": 30.67, "p": 0.647, "p2": 0.7197},
                    {"x": 36.22, "p": 0.647, "p2": 0.7624},
                    {"x": 37.67, "p": 0.647, "p2": 0.8889}
                  ]},
                  "layer": [
                    {"mark": {"type": "rule", "color": "#4caf50", "strokeWidth": 1},
                     "encoding": {"y": {"field": "p", "type": "quantitative", "title": null}, "y2": {"field": "p2"}}},
                    {"mark": {"type": "point", "shape": "M-1,0.6L0,-0.4L1,0.6", "filled": false, "color": "#4caf50", "size": 40, "strokeWidth": 1, "opacity": 1},
                     "encoding": {"y": {"field": "p2", "type": "quantitative", "title": null}}}
                  ]
                },
                {
                  "data": {"values": [
                    {"x": 26.0, "x2": 35.22, "p": 0.7538, "p2": 0.7316, "cx": 30.61, "cp": 0.7427, "t": "0.07445 (11.51%) 7445"},
                    {"x": 31.44, "x2": 41.0, "p": 0.7949, "p2": 0.7744, "cx": 36.22, "cp": 0.7846, "t": "0.11574 (17.85%) 11574"},
                    {"x": 32.78, "x2": 42.44, "p": 0.9248, "p2": 0.9026, "cx": 37.61, "cp": 0.9137, "t": "0.24305 (37.49%) 24305"}
                  ]},
                  "layer": [
                    {"mark": {"type": "rect", "color": "#4caf50", "cornerRadius": 2},
                     "encoding": {"x2": {"field": "x2"}, "y": {"field": "p", "type": "quantitative", "title": null}, "y2": {"field": "p2"}}},
                    {"mark": {"type": "text", "color": "#ffffff", "fontSize": 7.5, "align": "center", "baseline": "middle"},
                     "encoding": {"x": {"field": "cx", "type": "quantitative"}, "y": {"field": "cp", "type": "quantitative", "title": null}, "text": {"field": "t", "type": "nominal"}}}
                  ]
                },
                {
                  "data": {"values": [{"x": 46.1, "x2": 50.33, "p": 0.6547, "p2": 0.6256}]},
                  "mark": {"type": "rect", "color": "#26a69a", "cornerRadius": 1},
                  "encoding": {"x2": {"field": "x2"}, "y": {"field": "p", "type": "quantitative", "title": null}, "y2": {"field": "p2"}}
                },
                {
                  "data": {"values": [{"x": 46.5, "p": 0.6462, "t": "0.64811"}, {"x": 46.5, "p": 0.6325, "t": "02:50:48"}]},
                  "mark": {"type": "text", "color": "#ffffff", "fontSize": 7.5, "align": "left", "baseline": "middle", "fontWeight": "bold"},
                  "encoding": {"y": {"field": "p", "type": "quantitative", "title": null}, "text": {"field": "t", "type": "nominal"}}
                },
                {
                  "data": {"values": [{"x": 47.44, "x2": 50.11, "p": 1.0308, "p2": 1.0103}]},
                  "mark": {"type": "rect", "fill": "#ffffff", "stroke": "#d1d4dc", "strokeWidth": 0.8, "cornerRadius": 2},
                  "encoding": {"x2": {"field": "x2"}, "y": {"field": "p", "type": "quantitative", "title": null}, "y2": {"field": "p2"}}
                },
                {
                  "data": {"values": [{"x": 48.78, "p": 1.0205, "t": "USDT"}]},
                  "mark": {"type": "text", "color": "#50535e", "fontSize": 6.5, "align": "center", "baseline": "middle"},
                  "encoding": {"y": {"field": "p", "type": "quantitative", "title": null}, "text": {"field": "t", "type": "nominal"}}
                },
                {
                  "data": {"values": [{"x": 50.4, "x2": 51.44, "p": 0.37, "p2": 0.368}]},
                  "mark": {"type": "rect", "color": "#ffffff"},
                  "encoding": {"x2": {"field": "x2"}, "y": {"field": "p", "type": "quantitative", "title": null}, "y2": {"field": "p2"}}
                }
              ]
            }
          ]
        },
        {
          "width": 415,
          "height": 57,
          "encoding": {"x": {"field": "x", "type": "quantitative", "title": null, "scale": {"domain": [0, 46.1], "nice": false, "zero": false}, "axis": null}},
          "layer": [
            {
              "data": {"values": [{"x": 0, "x2": 46.1, "a": 30, "b": 70}]},
              "mark": {"type": "rect", "color": "#9c6ade", "opacity": 0.15},
              "encoding": {
                "x2": {"field": "x2"},
                "y": {"field": "a", "type": "quantitative", "title": null, "scale": {"domain": [21.4, 89.3], "nice": false, "zero": false},
                  "axis": {"orient": "right", "tickCount": 60, "labelOverlap": false, "values": [25, 50, 75], "format": ".2f"}},
                "y2": {"field": "b"}
              }
            },
            {
              "data": {"values": [{"x": 0, "x2": 46.1, "a": 30}, {"x": 0, "x2": 46.1, "a": 70}]},
              "mark": {"type": "rule", "color": "#9598a1", "strokeDash": [3, 3], "strokeWidth": 0.8},
              "encoding": {"x2": {"field": "x2"}, "y": {"field": "a", "type": "quantitative", "title": null}}
            },
            {
              "data": {"values": [
                {"g": "u", "x": 0, "v": 77.4}, {"g": "u", "x": 31.3, "v": 45.6},
                {"g": "d", "x": 14.07, "v": 27.8}, {"g": "d", "x": 31.3, "v": 45.6}
              ]},
              "mark": {"type": "line", "color": "#66bb6a", "strokeWidth": 1},
              "encoding": {"y": {"field": "v", "type": "quantitative", "title": null}, "detail": {"field": "g"}}
            },
            {
              "data": {"name": "lR"},
              "mark": {"type": "line", "color": "#8e44ad", "strokeWidth": 1},
              "encoding": {"y": {"field": "v", "type": "quantitative", "title": null}}
            }
          ]
        },
        {
          "width": 415,
          "height": 80,
          "encoding": {"x": {"field": "x", "type": "quantitative", "title": null, "scale": {"domain": [0, 46.1], "nice": false, "zero": false},
            "axis": {"title": null, "tickCount": 60, "values": [4.22, 11.22, 17.22, 23.33, 32.33, 39.44], "labelPadding": 4, "labelOverlap": false,
              "labelExpr": "datum.value < 5 ? '12' : datum.value < 12 ? '19' : datum.value < 18 ? '25' : datum.value < 24 ? 'May' : datum.value < 33 ? '10' : '17'",
              "labelFontWeight": {"condition": {"test": "datum.value > 23 && datum.value < 24", "value": "bold"}, "value": "normal"}}}},
          "layer": [
            {
              "data": {"name": "lOA"},
              "mark": {"type": "area", "color": "#1f4fa0", "interpolate": "monotone"},
              "encoding": {
                "y": {"field": "v", "type": "quantitative", "title": null, "scale": {"domain": [-122, 131.7], "nice": false, "zero": false},
                  "axis": {"orient": "right", "tickCount": 60, "labelOverlap": false, "values": [100, 0, -100], "format": ".5f"}},
                "y2": {"datum": 0}
              }
            },
            {
              "data": {"values": [{"x": 12.5, "v": 0}, {"x": 13, "v": -6}, {"x": 14, "v": -8}, {"x": 15, "v": -7}, {"x": 16, "v": -5}, {"x": 17, "v": -7}, {"x": 18, "v": -6}, {"x": 19, "v": -5}, {"x": 19.5, "v": 0}]},
              "mark": {"type": "area", "color": "#e53935", "opacity": 0.75},
              "encoding": {"y": {"field": "v", "type": "quantitative", "title": null}, "y2": {"datum": 0}}
            },
            {
              "data": {"name": "lOY"},
              "mark": {"type": "area", "color": "#f2e35b", "opacity": 0.8, "interpolate": "monotone"},
              "encoding": {"y": {"field": "v", "type": "quantitative", "title": null}, "y2": {"datum": 0}}
            },
            {
              "data": {"name": "lOG"},
              "mark": {"type": "line", "color": "#4caf50", "strokeWidth": 2},
              "encoding": {"y": {"field": "v", "type": "quantitative", "title": null}}
            },
            {
              "data": {"name": "lOL"},
              "mark": {"type": "line", "color": "#3fa7ee", "strokeWidth": 1.8, "interpolate": "monotone"},
              "encoding": {"y": {"field": "v", "type": "quantitative", "title": null}}
            },
            {
              "data": {"values": [{"x": 0, "x2": 28.44, "v": -100}]},
              "mark": {"type": "rule", "color": "#a5d6a7", "strokeWidth": 1},
              "encoding": {"x2": {"field": "x2"}, "y": {"field": "v", "type": "quantitative", "title": null}}
            },
            {
              "data": {"values": [{"x": 13.15, "x2": 19.44, "v": -100}]},
              "mark": {"type": "rule", "color": "#f8bbd0", "strokeWidth": 1.2},
              "encoding": {"x2": {"field": "x2"}, "y": {"field": "v", "type": "quantitative", "title": null}}
            },
            {
              "data": {"values": [{"x": 10.74, "v": -76, "x2": 14.81, "v2": -44}]},
              "mark": {"type": "rule", "color": "#1b1b1b", "strokeWidth": 1.2},
              "encoding": {"x2": {"field": "x2"}, "y": {"field": "v", "type": "quantitative", "title": null}, "y2": {"field": "v2"}}
            },
            {
              "data": {"values": [{"x": 3.70, "v": 85, "x2": 6.67, "v2": 68}, {"x": 20.0, "v": 63, "x2": 24.44, "v2": 44}]},
              "mark": {"type": "rule", "color": "#e53935", "strokeWidth": 1.2},
              "encoding": {"x2": {"field": "x2"}, "y": {"field": "v", "type": "quantitative", "title": null}, "y2": {"field": "v2"}}
            },
            {
              "data": {"name": "lOD"},
              "mark": {"type": "circle", "size": 16, "opacity": 1},
              "encoding": {"y": {"field": "v", "type": "quantitative", "title": null},
                "color": {"field": "k", "type": "nominal", "legend": null, "scale": {"domain": ["bear", "bull"], "range": ["#ef5350", "#2ee07a"]}}}
            },
            {
              "data": {"values": [{"x": 6.48, "v": 106}, {"x": 23.44, "v": 106}, {"x": 24.37, "v": 106}]},
              "mark": {"type": "circle", "size": 30, "color": "#ff1a1a", "opacity": 1},
              "encoding": {"y": {"field": "v", "type": "quantitative", "title": null}}
            },
            {
              "data": {"values": [{"x": 10.93, "v": -104}, {"x": 12.59, "v": -104}, {"x": 14.63, "v": -104}, {"x": 15.74, "v": -104}]},
              "mark": {"type": "circle", "size": 14, "color": "#9be89b", "opacity": 1},
              "encoding": {"y": {"field": "v", "type": "quantitative", "title": null}}
            }
          ]
        }
      ]
    },
    {
      "spacing": 0,
      "bounds": "flush",
      "vconcat": [
        {
          "width": 405,
          "height": 350,
          "encoding": {"x": {"field": "x", "type": "quantitative", "title": null, "scale": {"domain": [0, 26.13], "nice": false, "zero": false}, "axis": null}},
          "resolve": {"scale": {"y": "independent"}},
          "layer": [
            {
              "data": {"name": "rC"},
              "mark": {"type": "bar", "width": 3, "opacity": 0.5},
              "encoding": {
                "y": {"field": "v", "type": "quantitative", "title": null, "scale": {"domain": [-3, 347], "nice": false, "zero": false}, "axis": null},
                "y2": {"datum": 0},
                "color": {"condition": {"test": "datum.c >= datum.o", "value": "#26a69a"}, "value": "#ef5350"}
              }
            },
            {
              "layer": [
                {
                  "data": {"name": "rFib"},
                  "mark": {"type": "rule", "color": "#50535e", "strokeWidth": 1.1},
                  "encoding": {
                    "x2": {"field": "x2"},
                    "y": {"field": "p", "type": "quantitative", "title": null, "scale": {"domain": [0.0001178, 0.0002624], "nice": false, "zero": false},
                      "axis": {"orient": "right", "tickCount": 60, "labelOverlap": false, "values": [0.00012, 0.00013, 0.00014, 0.00015, 0.00016, 0.00017, 0.00018, 0.00019, 0.0002, 0.00021, 0.00022, 0.00023, 0.00024, 0.00025, 0.00026], "format": ".8f"}}
                  }
                },
                {
                  "data": {"name": "rFib"},
                  "mark": {"type": "text", "align": "left", "baseline": "bottom", "dy": -1, "color": "#2a2e39", "fontSize": 7.5},
                  "encoding": {
                    "x": {"field": "lx", "type": "quantitative"},
                    "y": {"field": "p", "type": "quantitative", "title": null},
                    "text": {"field": "t", "type": "nominal"}
                  }
                },
                {
                  "data": {"values": [{"x": 0, "x2": 26.13, "p": 0.00018749}]},
                  "mark": {"type": "rule", "color": "#26a69a", "strokeDash": [1, 2], "strokeWidth": 1},
                  "encoding": {"x2": {"field": "x2"}, "y": {"field": "p", "type": "quantitative", "title": null}}
                },
                {
                  "data": {"name": "rMA"},
                  "mark": {"type": "line", "strokeWidth": 1.1, "interpolate": "monotone"},
                  "encoding": {
                    "y": {"field": "p", "type": "quantitative", "title": null},
                    "color": {"field": "s", "type": "nominal", "legend": null,
                      "scale": {"domain": ["pink", "red", "gray", "blue", "teal", "orange", "fblue", "fpurple"],
                        "range": ["#f06292", "#ef5350", "#5d606b", "#2962ff", "#4dd0e1", "#ffb74d", "#448aff", "#b23fd6"]}}
                  }
                },
                {
                  "data": {"name": "rC"},
                  "mark": {"type": "rule", "strokeWidth": 0.9},
                  "encoding": {
                    "y": {"field": "l", "type": "quantitative", "title": null},
                    "y2": {"field": "h"},
                    "color": {"condition": {"test": "datum.c >= datum.o", "value": "#26a69a"}, "value": "#ef5350"}
                  }
                },
                {
                  "data": {"name": "rC"},
                  "mark": {"type": "bar", "width": 3},
                  "encoding": {
                    "y": {"field": "o", "type": "quantitative", "title": null},
                    "y2": {"field": "c"},
                    "color": {"condition": {"test": "datum.c >= datum.o", "value": "#26a69a"}, "value": "#ef5350"}
                  }
                },
                {
                  "data": {"values": [{"x": 3.01, "p": 0.0001558}, {"x": 8.82, "p": 0.0002017}, {"x": 15.81, "p": 0.0001537}]},
                  "mark": {"type": "line", "color": "#2a2e39", "strokeDash": [3, 3], "strokeWidth": 1},
                  "encoding": {"y": {"field": "p", "type": "quantitative", "title": null}}
                },
                {
                  "data": {"values": [{"x": 20.84, "p": 0.0001851, "p2": 0.0002339}]},
                  "layer": [
                    {"mark": {"type": "rule", "color": "#4caf50", "strokeWidth": 1},
                     "encoding": {"y": {"field": "p", "type": "quantitative", "title": null}, "y2": {"field": "p2"}}},
                    {"mark": {"type": "point", "shape": "M-1,0.6L0,-0.4L1,0.6", "filled": false, "color": "#4caf50", "size": 40, "strokeWidth": 1, "opacity": 1},
                     "encoding": {"y": {"field": "p2", "type": "quantitative", "title": null}}}
                  ]
                },
                {
                  "data": {"values": [{"x": 17.74, "x2": 23.81, "p": 0.0002417, "p2": 0.0002364, "cx": 20.77, "cp": 0.000239, "t": "0.00004872 (26.34%) 4872"}]},
                  "layer": [
                    {"mark": {"type": "rect", "color": "#4caf50", "cornerRadius": 2},
                     "encoding": {"x2": {"field": "x2"}, "y": {"field": "p", "type": "quantitative", "title": null}, "y2": {"field": "p2"}}},
                    {"mark": {"type": "text", "color": "#ffffff", "fontSize": 7.5, "align": "center", "baseline": "middle"},
                     "encoding": {"x": {"field": "cx", "type": "quantitative"}, "y": {"field": "cp", "type": "quantitative", "title": null}, "text": {"field": "t", "type": "nominal"}}}
                  ]
                },
                {
                  "data": {"values": [{"x": 26.13, "x2": 29.6, "p": 0.0001893, "p2": 0.0001826}]},
                  "mark": {"type": "rect", "color": "#26a69a", "cornerRadius": 1},
                  "encoding": {"x2": {"field": "x2"}, "y": {"field": "p", "type": "quantitative", "title": null}, "y2": {"field": "p2"}}
                },
                {
                  "data": {"values": [{"x": 26.3, "p": 0.0001876, "t": "0.00018749"}, {"x": 26.3, "p": 0.0001843, "t": "02:50:48"}]},
                  "mark": {"type": "text", "color": "#ffffff", "fontSize": 7.5, "align": "left", "baseline": "middle", "fontWeight": "bold"},
                  "encoding": {"y": {"field": "p", "type": "quantitative", "title": null}, "text": {"field": "t", "type": "nominal"}}
                },
                {
                  "data": {"values": [{"x": 27.55, "x2": 28.84, "p": 0.0002612, "p2": 0.0002566}]},
                  "mark": {"type": "rect", "fill": "#ffffff", "stroke": "#d1d4dc", "strokeWidth": 0.8, "cornerRadius": 2},
                  "encoding": {"x2": {"field": "x2"}, "y": {"field": "p", "type": "quantitative", "title": null}, "y2": {"field": "p2"}}
                },
                {
                  "data": {"values": [{"x": 28.19, "p": 0.0002589, "t": "ETH"}]},
                  "mark": {"type": "text", "color": "#50535e", "fontSize": 6.5, "align": "center", "baseline": "middle"},
                  "encoding": {"y": {"field": "p", "type": "quantitative", "title": null}, "text": {"field": "t", "type": "nominal"}}
                }
              ]
            }
          ]
        },
        {
          "width": 405,
          "height": 90,
          "encoding": {"x": {"field": "x", "type": "quantitative", "title": null, "scale": {"domain": [0, 26.13], "nice": false, "zero": false}, "axis": null}},
          "layer": [
            {
              "data": {"values": [{"x": 0, "x2": 26.13, "a": 30, "b": 70}]},
              "mark": {"type": "rect", "color": "#9c6ade", "opacity": 0.15},
              "encoding": {
                "x2": {"field": "x2"},
                "y": {"field": "a", "type": "quantitative", "title": null, "scale": {"domain": [8.2, 96.7], "nice": false, "zero": false},
                  "axis": {"orient": "right", "tickCount": 60, "labelOverlap": false, "values": [20, 40, 60, 80], "format": ".2f"}},
                "y2": {"field": "b"}
              }
            },
            {
              "data": {"values": [{"x": 0, "x2": 26.13, "a": 30}, {"x": 0, "x2": 26.13, "a": 70}]},
              "mark": {"type": "rule", "color": "#9598a1", "strokeDash": [3, 3], "strokeWidth": 0.8},
              "encoding": {"x2": {"field": "x2"}, "y": {"field": "a", "type": "quantitative", "title": null}}
            },
            {
              "data": {"values": [
                {"g": "u", "x": 0, "v": 72.5}, {"g": "u", "x": 26.13, "v": 38.7},
                {"g": "d", "x": 2.8, "v": 13.4}, {"g": "d", "x": 19.57, "v": 25.9}
              ]},
              "mark": {"type": "line", "color": "#66bb6a", "strokeWidth": 1},
              "encoding": {"y": {"field": "v", "type": "quantitative", "title": null}, "detail": {"field": "g"}}
            },
            {
              "data": {"name": "rR"},
              "mark": {"type": "line", "color": "#8e44ad", "strokeWidth": 1},
              "encoding": {"y": {"field": "v", "type": "quantitative", "title": null}}
            }
          ]
        },
        {
          "width": 405,
          "height": 92,
          "encoding": {"x": {"field": "x", "type": "quantitative", "title": null, "scale": {"domain": [0, 26.13], "nice": false, "zero": false},
            "axis": {"title": null, "tickCount": 60, "values": [0.32, 3.74, 7.23, 12.39, 16.32, 21.48, 25.16], "labelPadding": 4, "labelOverlap": false,
              "labelExpr": "datum.value < 1 ? '19' : datum.value < 4 ? '14:00' : datum.value < 8 ? '26' : datum.value < 13 ? 'May' : datum.value < 17 ? '5' : datum.value < 22 ? '10' : '14:00'",
              "labelFontWeight": {"condition": {"test": "datum.value > 12 && datum.value < 13", "value": "bold"}, "value": "normal"}}}},
          "layer": [
            {
              "data": {"name": "rOA"},
              "mark": {"type": "area", "color": "#1f4fa0", "interpolate": "monotone"},
              "encoding": {
                "y": {"field": "v", "type": "quantitative", "title": null, "scale": {"domain": [-124.3, 124.3], "nice": false, "zero": false},
                  "axis": {"orient": "right", "tickCount": 60, "labelOverlap": false, "values": [100, 50, 0, -50, -100], "format": ".8f"}},
                "y2": {"datum": 0}
              }
            },
            {
              "data": {"name": "rOR"},
              "mark": {"type": "area", "color": "#ef6a5a", "opacity": 0.75, "interpolate": "monotone"},
              "encoding": {"y": {"field": "v", "type": "quantitative", "title": null}, "y2": {"datum": 0}}
            },
            {
              "data": {"name": "rOY"},
              "mark": {"type": "area", "color": "#f2e35b", "opacity": 0.85, "interpolate": "monotone"},
              "encoding": {"y": {"field": "v", "type": "quantitative", "title": null}, "y2": {"datum": 0}}
            },
            {
              "data": {"values": [{"x": 0, "x2": 17.42, "v": 0}]},
              "mark": {"type": "rule", "color": "#e65100", "strokeWidth": 1.2},
              "encoding": {"x2": {"field": "x2"}, "y": {"field": "v", "type": "quantitative", "title": null}}
            },
            {
              "data": {"name": "rOL"},
              "mark": {"type": "line", "color": "#3fa7ee", "strokeWidth": 1.8, "interpolate": "monotone"},
              "encoding": {"y": {"field": "v", "type": "quantitative", "title": null}}
            },
            {
              "data": {"values": [{"x": 0, "x2": 17.42, "v": -100}]},
              "mark": {"type": "rule", "color": "#f4a6b4", "strokeWidth": 1},
              "encoding": {"x2": {"field": "x2"}, "y": {"field": "v", "type": "quantitative", "title": null}}
            },
            {
              "data": {"values": [{"x": 3.87, "v": -83, "x2": 16.02, "v2": -76}]},
              "mark": {"type": "rule", "color": "#66ff33", "strokeWidth": 1.5},
              "encoding": {"x2": {"field": "x2"}, "y": {"field": "v", "type": "quantitative", "title": null}, "y2": {"field": "v2"}}
            },
            {
              "data": {"values": [{"x": 4.52, "v": -79, "x2": 7.53, "v2": -53}]},
              "mark": {"type": "rule", "color": "#1b1b1b", "strokeWidth": 1.2},
              "encoding": {"x2": {"field": "x2"}, "y": {"field": "v", "type": "quantitative", "title": null}, "y2": {"field": "v2"}}
            },
            {
              "data": {"name": "rOD"},
              "mark": {"type": "circle", "size": 16, "opacity": 1},
              "encoding": {"y": {"field": "v", "type": "quantitative", "title": null},
                "color": {"field": "k", "type": "nominal", "legend": null, "scale": {"domain": ["bear", "bull"], "range": ["#ef5350", "#2ee07a"]}}}
            },
            {
              "data": {"values": [{"x": 1.83, "v": -106}, {"x": 2.37, "v": -106}, {"x": 3.87, "v": -106}, {"x": 4.52, "v": -106}]},
              "mark": {"type": "circle", "size": 8, "color": "#7be07b", "opacity": 1},
              "encoding": {"y": {"field": "v", "type": "quantitative", "title": null}}
            },
            {
              "data": {"values": [{"x": 7.53, "v": -106}]},
              "mark": {"type": "circle", "size": 30, "color": "#9be89b", "opacity": 1},
              "encoding": {"y": {"field": "v", "type": "quantitative", "title": null}}
            },
            {
              "data": {"values": [{"x": 16.02, "v": -106}]},
              "mark": {"type": "circle", "size": 40, "color": "#c9a227", "opacity": 1},
              "encoding": {"y": {"field": "v", "type": "quantitative", "title": null}}
            }
          ]
        }
      ]
    }
  ]
}
